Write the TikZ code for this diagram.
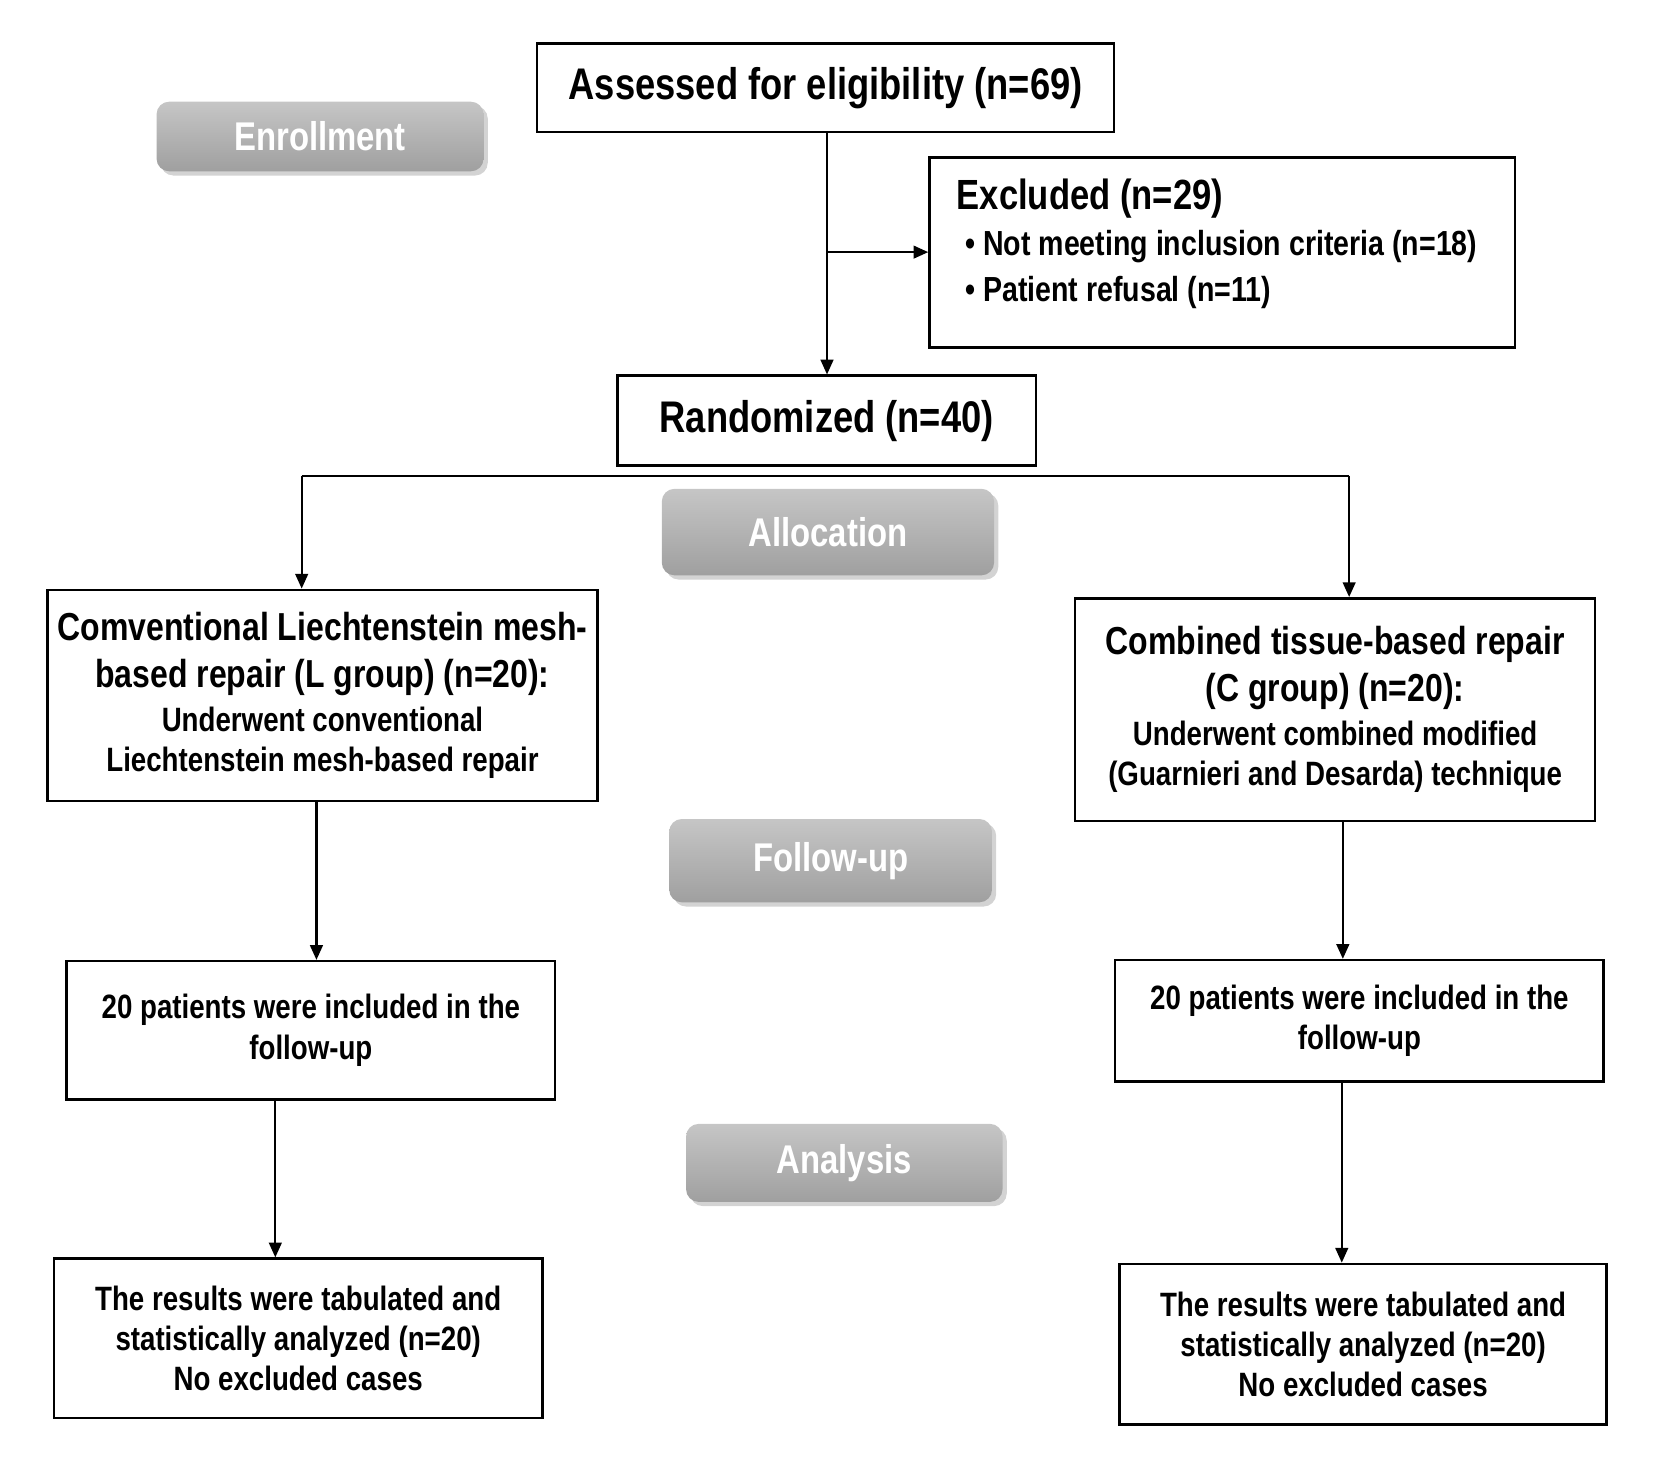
\documentclass[tikz,border=0pt]{standalone}
\usepackage{fontspec}
\setmainfont[FakeStretch=0.82]{Liberation Sans}
\usetikzlibrary{shadows,arrows.meta}
\begin{document}
\begin{tikzpicture}[x=0.5pt,y=-0.5pt,
 box/.style={draw,line width=1.2pt,align=center,inner sep=0pt,font=\bfseries\fontsize{16}{20}\selectfont},
 phase/.style={rounded corners=6pt,top color=gray!45,bottom color=gray!75,draw=none,
   text=white,font=\bfseries\fontsize{19}{22}\selectfont,drop shadow={opacity=0.35,shadow xshift=2pt,shadow yshift=-2pt}},
 arr/.style={line width=1.1pt,-{Triangle[length=7pt,width=6pt]}},
 ln/.style={line width=1.1pt}]
\useasboundingbox (0,0) rectangle (1568,1383);
\newcommand\bx[6]{\node[box,minimum width={(#4-#2)*0.5pt},minimum height={(#5-#3)*0.5pt},anchor=north west] (#1) at (#2,#3) {#6};}
\newcommand\ph[6]{\node[phase,minimum width={(#4-#2)*0.5pt},minimum height={(#5-#3)*0.5pt},anchor=north west] (#1) at (#2,#3) {#6};}
\newcommand\T[1]{{\fontsize{18.5}{20}\selectfont #1}}
\bx{a}{508}{40}{1055}{124}{\fontsize{21}{25}\selectfont Assessed for eligibility (n=69)}
\ph{en}{148}{96}{458}{162}{Enrollment}
\bx{ex}{880}{148}{1435}{328}{}
\node[anchor=west,font=\bfseries\fontsize{20}{24}\selectfont] (ext) at (900,188) {Excluded (n=29)};
\node[anchor=west,font=\bfseries\fontsize{16.5}{20}\selectfont] (ex1) at (908,234) {\textbullet\ Not meeting inclusion criteria (n=18)};
\node[anchor=west,font=\bfseries\fontsize{16.5}{20}\selectfont] (ex2) at (908,277) {\textbullet\ Patient refusal (n=11)};
\bx{r}{584}{355}{981}{440}{\fontsize{21}{25}\selectfont Randomized (n=40)}
\ph{al}{627}{463}{942}{545}{Allocation}
\bx{l1}{44}{558}{565}{758}{\T{Comventional Liechtenstein mesh-}\\[2pt]\T{based repair (L group) (n=20):}\\[1pt]Underwent conventional\\[-1pt]Liechtenstein mesh-based repair}
\bx{r1}{1018}{566}{1511}{777}{\T{Combined tissue-based repair}\\[2pt]\T{(C group) (n=20):}\\[1pt]Underwent combined modified\\[-1pt](Guarnieri and Desarda) technique}
\ph{fu}{634}{776}{940}{855}{Follow-up}
\bx{l2}{62}{910}{525}{1041}{20 patients were included in the\\[-1pt]follow-up}
\bx{r2}{1056}{909}{1519}{1024}{20 patients were included in the\\[-1pt]follow-up}
\ph{an}{650}{1065}{950}{1139}{Analysis}
\bx{l3}{50}{1192}{513}{1343}{The results were tabulated and\\[-1pt]statistically analyzed (n=20)\\[-1pt]No excluded cases}
\bx{r3}{1060}{1197}{1522}{1349}{The results were tabulated and\\[-1pt]statistically analyzed (n=20)\\[-1pt]No excluded cases}
\coordinate (b1) at (784,239);
\draw[arr] (a.south -| b1) -- (r.north -| b1);
\draw[arr] (b1) -- (ex.west |- b1);
\coordinate (sl) at (286,451);
\coordinate (sr) at (1279,451);
\draw[ln] (sl) -- (sr);
\draw[arr] (sl) -- (l1.north -| sl);
\draw[arr] (sr) -- (r1.north -| sr);
\coordinate (c1) at (300,0); \coordinate (c2) at (261,0);
\coordinate (c3) at (1273,0); \coordinate (c4) at (1272,0);
\draw[arr] (l1.south -| c1) -- (l2.north -| c1);
\draw[arr] (l2.south -| c2) -- (l3.north -| c2);
\draw[arr] (r1.south -| c3) -- (r2.north -| c3);
\draw[arr] (r2.south -| c4) -- (r3.north -| c4);
\end{tikzpicture}
\end{document}
